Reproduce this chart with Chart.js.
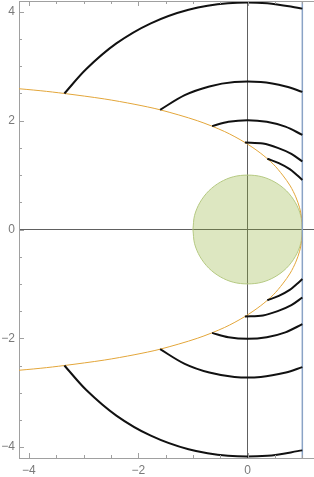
<!DOCTYPE html>
<html>
<head>
<meta charset="utf-8">
<script src="https://cdn.jsdelivr.net/npm/chart.js@4.4.1/dist/chart.umd.min.js"></script>
<style>
  html, body { margin: 0; padding: 0; background: #fff; overflow: hidden; }
  #plot { display: block; }
</style>
</head>
<body>
<canvas id="plot" width="316" height="477" style="width:316px;height:477px"></canvas>
<script>
// tick labels
var xTicks = [-4, -2, 0];
var yTicks = [-4, -2, 0, 2, 4];

// green disk (upper and lower half)
var diskTop = [[-1, 0], [-0.97, 0.26], [-0.87, 0.5], [-0.71, 0.71], [-0.5, 0.87], [-0.26, 0.97], [0, 1],
  [0.26, 0.97], [0.5, 0.87], [0.71, 0.71], [0.87, 0.5], [0.97, 0.26], [1, 0]];
var diskBottom = [[-1, 0], [-0.97, -0.26], [-0.87, -0.5], [-0.71, -0.71], [-0.5, -0.87], [-0.26, -0.97], [0, -1],
  [0.26, -0.97], [0.5, -0.87], [0.71, -0.71], [0.87, -0.5], [0.97, -0.26], [1, 0]];

// orange boundary curve
var curve = [[-4.32, 2.6], [-3.78, 2.55], [-3.35, 2.5], [-2.62, 2.4], [-2.06, 2.3], [-1.6, 2.2], [-0.92, 2.0],
  [-0.42, 1.8], [-0.05, 1.6], [0.24, 1.4], [0.47, 1.2], [0.64, 1.0], [0.78, 0.8], [0.88, 0.6], [0.95, 0.4],
  [0.99, 0.2], [1.0, 0], [0.99, -0.2], [0.95, -0.4], [0.88, -0.6], [0.78, -0.8], [0.64, -1.0], [0.47, -1.2],
  [0.24, -1.4], [-0.05, -1.6], [-0.42, -1.8], [-0.92, -2.0], [-1.6, -2.2], [-2.06, -2.3], [-2.62, -2.4],
  [-3.35, -2.5], [-3.78, -2.55], [-4.32, -2.6]];

// black arcs, upper half
var arcTop1 = [[-3.35, 2.5], [-2.95, 2.95], [-2.4, 3.42], [-1.77, 3.79], [-1.08, 4.04], [-0.36, 4.16], [0.36, 4.16], [1.0, 4.06]];
var arcTop2 = [[-1.6, 2.2], [-1.15, 2.47], [-0.7, 2.63], [-0.24, 2.71], [0.24, 2.71], [0.7, 2.63], [1.0, 2.53]];
var arcTop3 = [[-0.65, 1.9], [-0.35, 1.98], [0, 2.01], [0.35, 1.98], [0.69, 1.89], [1.0, 1.74]];
var arcTop4 = [[-0.05, 1.6], [0.28, 1.58], [0.55, 1.5], [0.8, 1.39], [1.0, 1.25]];
var arcTop5 = [[0.36, 1.3], [0.57, 1.22], [0.77, 1.11], [0.9, 1.0], [1.0, 0.91]];

// black arcs, lower half
var arcBot1 = [[-3.35, -2.5], [-2.95, -2.95], [-2.4, -3.42], [-1.77, -3.79], [-1.08, -4.04], [-0.36, -4.16], [0.36, -4.16], [1.0, -4.06]];
var arcBot2 = [[-1.6, -2.2], [-1.15, -2.47], [-0.7, -2.63], [-0.24, -2.71], [0.24, -2.71], [0.7, -2.63], [1.0, -2.53]];
var arcBot3 = [[-0.65, -1.9], [-0.35, -1.98], [0, -2.01], [0.35, -1.98], [0.69, -1.89], [1.0, -1.74]];
var arcBot4 = [[-0.05, -1.6], [0.28, -1.58], [0.55, -1.5], [0.8, -1.39], [1.0, -1.25]];
var arcBot5 = [[0.36, -1.3], [0.57, -1.22], [0.77, -1.11], [0.9, -1.0], [1.0, -0.91]];

// vertical line at x = 1
var wall = [[1, -4.3], [1, 4.3]];

var frameColor = "#a0a0a0";
var labelColor = "#7a7a7a";

function minusLabel(v) {
  return v < 0 ? "\u2212" + Math.abs(v) : "" + v;
}

function arcSet(pts) {
  return {
    data: pts,
    showLine: true,
    borderColor: "#111111",
    borderWidth: 2,
    pointRadius: 0,
    tension: 0.33,
    fill: false
  };
}

// frame top edge and inward ticks, like a framed plot
var framePlugin = {
  id: "frame",
  afterDatasetsDraw: function(chart) {
    var ctx = chart.ctx;
    var a = chart.chartArea;
    var xs = chart.scales.x;
    var ys = chart.scales.y;
    ctx.save();
    ctx.strokeStyle = frameColor;
    ctx.lineWidth = 1;
    ctx.beginPath();
    ctx.moveTo(a.left, a.top + 0.5);
    ctx.lineTo(a.right, a.top + 0.5);
    var v, p, len;
    for (v = -4; v <= 1.001; v += 0.5) {
      p = Math.round(xs.getPixelForValue(v)) + 0.5;
      len = (Math.abs(v % 2) < 0.001) ? 5 : 3;
      ctx.moveTo(p, a.bottom);
      ctx.lineTo(p, a.bottom - len);
      ctx.moveTo(p, a.top);
      ctx.lineTo(p, a.top + len);
    }
    for (v = -4; v <= 4.001; v += 0.5) {
      p = Math.round(ys.getPixelForValue(v)) + 0.5;
      len = (Math.abs(v % 2) < 0.001) ? 5 : 3;
      ctx.moveTo(a.left, p);
      ctx.lineTo(a.left + len, p);
    }
    ctx.stroke();
    ctx.restore();
  }
};

function noPad(scale) {
  scale.paddingTop = 0;
  scale.paddingBottom = 0;
  scale.paddingLeft = 0;
  scale.paddingRight = 0;
}

var ctx1 = document.getElementById("plot");

var datasets = [
  arcSet(arcTop1), arcSet(arcTop2), arcSet(arcTop3), arcSet(arcTop4), arcSet(arcTop5),
  arcSet(arcBot1), arcSet(arcBot2), arcSet(arcBot3), arcSet(arcBot4), arcSet(arcBot5),
  {
    data: wall,
    showLine: true,
    borderColor: "#8aa3c6",
    borderWidth: 1.5,
    pointRadius: 0,
    fill: false
  },
  {
    data: curve,
    showLine: true,
    borderColor: "#e3a63a",
    borderWidth: 1,
    pointRadius: 0,
    tension: 0.3,
    fill: false
  },
  {
    data: diskTop,
    showLine: true,
    borderColor: "#b5c982",
    backgroundColor: "rgba(143, 176, 50, 0.3)",
    borderWidth: 1,
    pointRadius: 0,
    tension: 0.33,
    fill: "origin"
  },
  {
    data: diskBottom,
    showLine: true,
    borderColor: "#b5c982",
    backgroundColor: "rgba(143, 176, 50, 0.3)",
    borderWidth: 1,
    pointRadius: 0,
    tension: 0.33,
    fill: "origin"
  }
];

var chart1 = new Chart(ctx1, {
  type: "scatter",
  data: { datasets: datasets },
  plugins: [framePlugin],
  options: {
    responsive: false,
    animation: false,
    layout: { padding: { top: 1, left: 0, right: 0, bottom: 0 } },
    plugins: {
      legend: { display: false },
      tooltip: { enabled: false }
    },
    scales: {
      x: {
        type: "linear",
        min: -4.18,
        max: 1.25,
        afterBuildTicks: function(scale) {
          scale.ticks = xTicks.map(function(v) { return { value: v }; });
        },
        afterFit: function(scale) { scale.height = 19; noPad(scale); },
        grid: {
          drawTicks: false,
          color: function(c) { return c.tick && c.tick.value === 0 ? "#606060" : "rgba(0,0,0,0)"; },
          lineWidth: 1
        },
        border: { display: true, color: frameColor, width: 1 },
        ticks: {
          padding: 5,
          color: labelColor,
          font: { family: "Liberation Sans", size: 12 },
          maxRotation: 0,
          autoSkip: false,
          callback: function(v) { return minusLabel(v); }
        }
      },
      y: {
        type: "linear",
        min: -4.2,
        max: 4.2,
        afterBuildTicks: function(scale) {
          scale.ticks = yTicks.map(function(v) { return { value: v }; });
        },
        afterFit: function(scale) { scale.width = 19; noPad(scale); },
        grid: {
          drawTicks: false,
          color: function(c) { return c.tick && c.tick.value === 0 ? "#606060" : "rgba(0,0,0,0)"; },
          lineWidth: 1
        },
        border: { display: true, color: frameColor, width: 1 },
        ticks: {
          padding: 4,
          color: labelColor,
          font: { family: "Liberation Sans", size: 12 },
          autoSkip: false,
          callback: function(v) { return minusLabel(v); }
        }
      }
    }
  }
});
</script>
</body>
</html>
